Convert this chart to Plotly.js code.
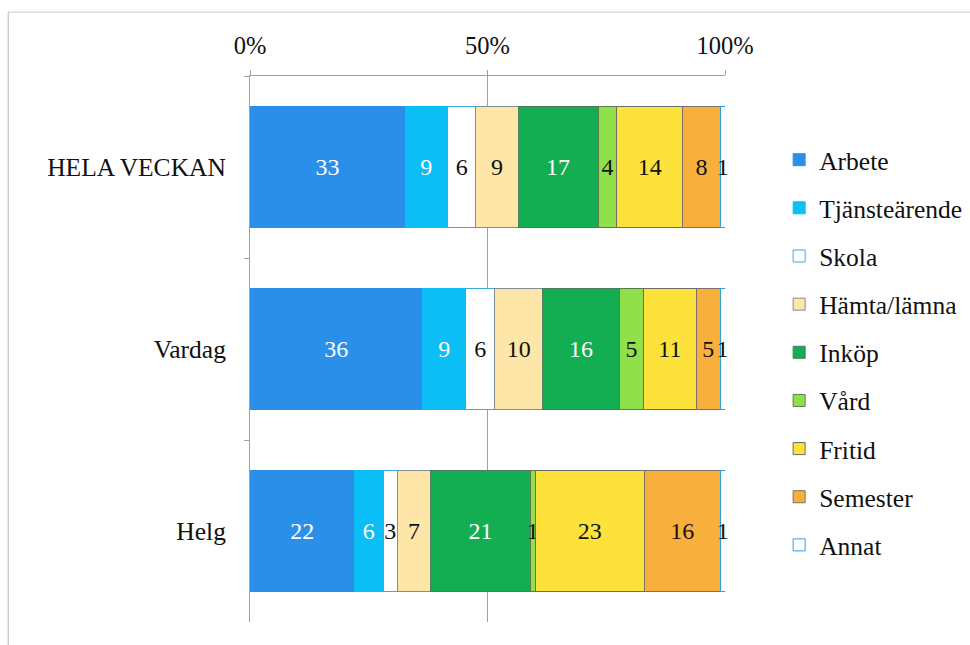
<!DOCTYPE html>
<html>
<head>
<meta charset="utf-8">
<script src="https://cdn.plot.ly/plotly-3.0.1.min.js"></script>
<style>html,body{margin:0;padding:0;background:#fff;}#chart{width:970px;height:645px;}</style>
</head>
<body>
<div id="chart"></div>
<script>
const categories = ['HELA VECKAN', 'Vardag', 'Helg'];
const seriesNames = ['Arbete', 'Tjänsteärende', 'Skola', 'Hämta/lämna', 'Inköp', 'Vård', 'Fritid', 'Semester', 'Annat'];
const arbete    = [33, 36, 22];
const tjanste   = [9, 9, 6];
const skola     = [6, 6, 3];
const hamta     = [9, 10, 7];
const inkop     = [17, 16, 21];
const vard      = [4, 5, 1];
const fritid    = [14, 11, 23];
const semester  = [8, 5, 16];
const annat     = [1, 1, 1];
const xTickVals = [0, 50, 100];
const xTickText = ['0%', '50%', '100%'];

const seriesValues = [arbete, tjanste, skola, hamta, inkop, vard, fritid, semester, annat];
const fillColors = ['#2a8fe8', '#0bbef5', '#ffffff', '#fde6a8', '#14ae52', '#90e04c', '#fde23c', '#f9af3c', '#ffffff'];
const lineColors = ['#2a8fe8', '#0bbef5', '#3aaae2', '#7d8c96', '#4f7a60', '#5d7a4c', '#6d6c66', '#7a706a', '#2a9fe8'];
const textColors = ['#ffffff', '#ffffff', '#111111', '#111111', '#ffffff', '#111111', '#111111', '#111111', '#111111'];

const FONT = 'Liberation Serif';

const traces = seriesNames.map((name, i) => ({
  type: 'bar',
  orientation: 'h',
  name: name,
  y: categories,
  x: seriesValues[i],
  text: seriesValues[i].map(String),
  texttemplate: '%{text}',
  textposition: 'inside',
  insidetextanchor: 'middle',
  constraintext: 'none',
  textangle: 0,
  cliponaxis: false,
  textfont: {family: FONT, size: 24, color: textColors[i]},
  insidetextfont: {family: FONT, size: 24, color: textColors[i]},
  marker: {color: fillColors[i], line: {color: lineColors[i], width: 1}},
  legendgroup: 'g' + i,
  hoverinfo: 'name+text'
}));

const layout = {
  width: 970,
  height: 645,
  margin: {l: 250, r: 245, t: 76, b: 23, autoexpand: false},
  paper_bgcolor: '#ffffff',
  plot_bgcolor: '#ffffff',
  font: {family: FONT, size: 24, color: '#111111'},
  barmode: 'stack',
  barnorm: 'percent',
  bargap: 0.33,
  showlegend: true,
  legend: {
    x: 1.114, xanchor: 'left',
    y: 0.889, yanchor: 'top',
    traceorder: 'grouped',
    tracegroupgap: 12,
    font: {family: FONT, size: 25.5, color: '#111111'},
    itemwidth: 30,
    bgcolor: 'rgba(0,0,0,0)'
  },
  xaxis: {
    side: 'top',
    range: [0, 100],
    tickvals: xTickVals,
    ticktext: xTickText,
    showgrid: true,
    gridcolor: '#a0a0a0',
    gridwidth: 1,
    showline: true,
    linecolor: '#a0a0a0',
    linewidth: 1,
    ticks: 'outside',
    ticklen: 5,
    tickcolor: '#a0a0a0',
    ticklabelstandoff: 6,
    zeroline: false,
    fixedrange: true,
    tickfont: {family: FONT, size: 24.5, color: '#111111'}
  },
  yaxis: {
    type: 'category',
    autorange: 'reversed',
    showline: true,
    linecolor: '#a0a0a0',
    linewidth: 1,
    ticks: 'outside',
    tickson: 'boundaries',
    ticklen: 5,
    tickcolor: '#a0a0a0',
    ticklabelstandoff: 18,
    showgrid: false,
    zeroline: false,
    fixedrange: true,
    tickfont: {family: FONT, size: 25.5, color: '#111111'}
  },
  shapes: [
    {type: 'line', xref: 'paper', yref: 'paper', x0: -0.509, x1: 1.6, y0: 1.117, y1: 1.117, line: {color: '#cfcfcf', width: 1}},
    {type: 'line', xref: 'paper', yref: 'paper', x0: -0.509, x1: -0.509, y0: 1.117, y1: -0.05, line: {color: '#b8b8b8', width: 1}}
  ]
};

Plotly.newPlot('chart', traces, layout, {displayModeBar: false, staticPlot: true});
</script>
</body>
</html>
